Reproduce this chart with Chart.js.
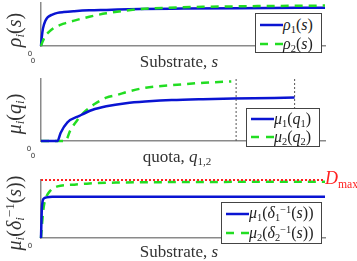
<!DOCTYPE html>
<html>
<head>
<meta charset="utf-8">
<script src="https://cdn.jsdelivr.net/npm/chart.js@4.4.1/dist/chart.umd.min.js"></script>
<style>
    body { margin: 0; background: #fff; }
    #wrap { position: relative; width: 357px; height: 261px; overflow: hidden; font-family: "Liberation Serif", "DejaVu Serif", serif; }
    canvas { position: absolute; left: 0; top: 0; }
    .lbl { position: absolute; white-space: nowrap; color: #333; }
    .ylab { transform: translate(-50%, -50%) rotate(-90deg); font-size: 20px; }
    .xlab { transform: translate(-50%, -50%); font-size: 17px; }
    .tick { position: absolute; font-size: 7px; color: #333; font-family: "DejaVu Sans", sans-serif; transform: translate(-50%, -50%); }
    .legend { position: absolute; border: 1px solid #444; background: #fff; }
    .legend .row { position: absolute; left: 0; font-size: 16px; line-height: 18px; white-space: nowrap; color: #222; }
    .legend svg { position: absolute; }
    i { font-style: italic; }
    sub { font-size: 65%; vertical-align: -0.3em; line-height: 0; }
    sup { font-size: 65%; vertical-align: 0.5em; line-height: 0; }
</style>
</head>
<body>
<div id="wrap">
    <canvas id="c1" width="357" height="261"></canvas>
    <canvas id="c2" width="357" height="261"></canvas>
    <canvas id="c3" width="357" height="261"></canvas>

    <div class="lbl ylab" style="left:14px; top:30px;"><i>ρ<sub>i</sub></i>(<i>s</i>)</div>
    <div class="lbl ylab" style="left:14px; top:114px;"><i>μ<sub>i</sub></i>(<i>q<sub>i</sub></i>)</div>
    <div class="lbl ylab" style="left:14px; top:213px;"><i>μ<sub>i</sub></i>(<i>δ</i><sub><i>i</i></sub><sup>−1</sup>(<i>s</i>))</div>

    <div class="lbl xlab" style="left:179px; top:62px;">Substrate, <i>s</i></div>
    <div class="lbl xlab" style="left:177px; top:157px;">quota, <i>q</i><sub>1,2</sub></div>
    <div class="lbl xlab" style="left:179px; top:252px;">Substrate, <i>s</i></div>

    <div class="tick" style="left:30px; top:54px;">0</div>
    <div class="tick" style="left:33px; top:61px;">0</div>
    <div class="tick" style="left:29px; top:149px;">0</div>
    <div class="tick" style="left:33px; top:156px;">0</div>
    <div class="tick" style="left:30px; top:246px;">0</div>

    <div class="lbl" style="left:325px; top:168px; color:#ff2020; font-size:18px;"><i>D</i><sub style="font-style:normal;">max</sub></div>

    <div class="legend" style="left:255px; top:13px; width:65px; height:38px;">
        <svg width="30" height="38" style="left:3px; top:0;"><line x1="1" y1="11" x2="24" y2="11" stroke="#0a14d2" stroke-width="2.5"/><line x1="1" y1="30" x2="24" y2="30" stroke="#22dd22" stroke-width="2.5" stroke-dasharray="8,7"/></svg>
        <div class="row" style="left:27px; top:2px;"><i>ρ</i><sub>1</sub>(<i>s</i>)</div>
        <div class="row" style="left:27px; top:21px;"><i>ρ</i><sub>2</sub>(<i>s</i>)</div>
    </div>

    <div class="legend" style="left:246px; top:108px; width:72px; height:37px;">
        <svg width="30" height="37" style="left:3px; top:0;"><line x1="1" y1="10" x2="24" y2="10" stroke="#0a14d2" stroke-width="2.5"/><line x1="1" y1="28" x2="24" y2="28" stroke="#22dd22" stroke-width="2.5" stroke-dasharray="8,7"/></svg>
        <div class="row" style="left:27px; top:1px;"><i>μ</i><sub>1</sub>(<i>q</i><sub>1</sub>)</div>
        <div class="row" style="left:27px; top:19px;"><i>μ</i><sub>2</sub>(<i>q</i><sub>2</sub>)</div>
    </div>

    <div class="legend" style="left:221px; top:202px; width:99px; height:40px;">
        <svg width="30" height="40" style="left:3px; top:0;"><line x1="1" y1="11" x2="24" y2="11" stroke="#0a14d2" stroke-width="2.5"/><line x1="1" y1="30" x2="24" y2="30" stroke="#22dd22" stroke-width="2.5" stroke-dasharray="8,7"/></svg>
        <div class="row" style="left:27px; top:1px;"><i>μ</i><sub>1</sub>(<i>δ</i><sub>1</sub><sup>−1</sup>(<i>s</i>))</div>
        <div class="row" style="left:27px; top:21px;"><i>μ</i><sub>2</sub>(<i>δ</i><sub>2</sub><sup>−1</sup>(<i>s</i>))</div>
    </div>
</div>

<script>
// panel 1: growth rate vs substrate
const rho1X = [0, 0.3, 0.7, 1.5, 2.4, 4, 5.8, 8, 11.7, 17, 23, 35, 50, 70, 100];
const rho1Y = [0, 0.22, 0.41, 0.58, 0.67, 0.73, 0.77, 0.79, 0.81, 0.83, 0.84, 0.86, 0.87, 0.88, 0.89];
const rho2X = [0, 0.5, 1.4, 3, 4.8, 8, 11.7, 17, 23, 35, 45, 57, 80, 100];
const rho2Y = [0, 0.09, 0.22, 0.34, 0.43, 0.52, 0.59, 0.68, 0.76, 0.86, 0.89, 0.91, 0.93, 0.94];

// panel 2: growth vs quota
const mu1X = [0, 5.8, 6.9, 9.3, 13.7, 18, 23, 29.9, 38, 46, 57, 67.7, 89.3];
const mu1Y = [0, 0, 0.13, 0.30, 0.41, 0.50, 0.56, 0.61, 0.64, 0.66, 0.675, 0.685, 0.70];
const mu2X = [0, 8.6, 10.3, 12.5, 15.1, 19, 23, 26.5, 31, 36.8, 46, 57.4, 67];
const mu2Y = [0, 0, 0.17, 0.32, 0.46, 0.60, 0.70, 0.74, 0.80, 0.86, 0.90, 0.94, 0.96];
const quotaMarks = [68.7, 89.3];

// panel 3: growth vs substrate through inverse uptake
const inv1X = [0, 0.3, 0.6, 1, 2, 4, 100];
const inv1Y = [0, 0.5, 0.64, 0.68, 0.70, 0.71, 0.71];
const inv2X = [0, 0.45, 1, 1.8, 3, 5.8, 11.7, 17, 26.5, 50, 100];
const inv2Y = [0, 0.29, 0.55, 0.70, 0.80, 0.89, 0.92, 0.94, 0.955, 0.965, 0.97];
const dMax = 1;

const BLUE = "#0a14d2";
const GREEN = "#22dd22";

function pts(xs, ys) {
    return xs.map((x, i) => ({ x: x, y: ys[i] }));
}

function solid(data) {
    return { data: data, borderColor: BLUE, borderWidth: 2.5, showLine: true, pointRadius: 0, clip: 6, cubicInterpolationMode: "monotone" };
}

function dashed(data) {
    return { data: data, borderColor: GREEN, borderWidth: 2.5, borderDash: [8, 6], showLine: true, pointRadius: 0, clip: 6, cubicInterpolationMode: "monotone" };
}

function makePanel(id, top, bottom, datasets) {
    const axisStyle = {
        type: "linear",
        grid: { display: false },
        ticks: { display: false },
        border: { color: "#8a8a8a", width: 1.5 },
    };
    return new Chart(document.getElementById(id), {
        type: "scatter",
        data: { datasets: datasets },
        options: {
            responsive: false,
            animation: false,
            layout: { padding: { left: 33, right: 32, top: top, bottom: 261 - bottom } },
            plugins: { legend: { display: false }, tooltip: { enabled: false } },
            scales: {
                x: Object.assign({}, axisStyle, { min: 0, max: 100 }),
                y: Object.assign({}, axisStyle, { min: 0, max: 1 }),
            },
        },
    });
}

makePanel("c1", 3, 54, [
    dashed(pts(rho2X, rho2Y)),
    solid(pts(rho1X, rho1Y)),
]);

const markSets = quotaMarks.map((q) => ({
    data: [{ x: q, y: 0 }, { x: q, y: 1 }],
    borderColor: "#555",
    borderWidth: 1,
    borderDash: [2, 2],
    showLine: true,
    pointRadius: 0,
}));

makePanel("c2", 79, 149, markSets.concat([
    solid(pts(mu1X, mu1Y)),
    dashed(pts(mu2X, mu2Y)),
]));

makePanel("c3", 180, 246, [
    {
        data: [{ x: 0, y: dMax }, { x: 100, y: dMax }],
        borderColor: "#ff2020",
        borderWidth: 2,
        borderDash: [2, 2],
        showLine: true,
        pointRadius: 0,
        clip: 6,
    },
    solid(pts(inv1X, inv1Y)),
    dashed(pts(inv2X, inv2Y)),
]);
</script>
</body>
</html>
